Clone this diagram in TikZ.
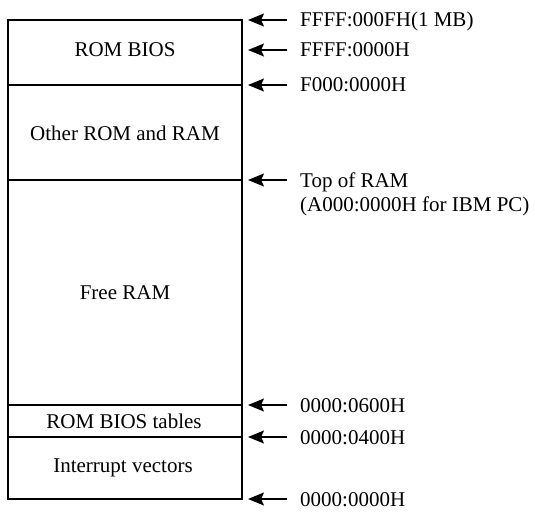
\documentclass[tikz,border=0pt]{standalone}
\usepackage{fontspec}
\setmainfont{Liberation Serif}
\usetikzlibrary{arrows.meta}
\begin{document}
\begin{tikzpicture}[x=1pt,y=-1pt,
  every node/.style={font=\fontsize{21}{24}\selectfont, inner sep=0pt},
  region/.style={anchor=base},
  addr/.style={anchor=base west, align=left},
  ptr/.style={line width=1.5pt, -{Stealth[length=16pt,width=13pt,inset=3pt]}},
  wall/.style={line width=1.3pt}]
\useasboundingbox (0,0) rectangle (535,513);
% box
\draw[wall] (8,20) rectangle (242,499);
\draw[wall] (8,85) -- (242,85);
\draw[wall] (8,180) -- (242,180);
\draw[wall] (8,405) -- (242,405);
\draw[wall] (8,437) -- (242,437);
% region labels
\node[region] (rb) at (125,57) {ROM BIOS};
\node[region] (or) at (125,141) {Other ROM and RAM};
\node[region] (fr) at (125,299) {Free RAM};
\node[region] (bt) at (124,428) {ROM BIOS tables};
\node[region] (iv) at (123,472) {Interrupt vectors};
% address labels
\node[addr] (a1) at (300,27) {FFFF:000FH(1 MB)};
\node[addr] (a2) at (300,57) {FFFF:0000H};
\node[addr] (a3) at (300,92) {F000:0000H};
\node[addr, anchor=north west] (a4) at (300,172.7) {Top of RAM\\(A000:0000H for IBM PC)};
\node[addr] (a5) at (300,412) {0000:0600H};
\node[addr] (a6) at (300,444) {0000:0400H};
\node[addr] (a7) at (300,506) {0000:0000H};
% arrow ends
\coordinate (t1) at (287,20);  \coordinate (h1) at (248,20);
\coordinate (t2) at (287,50);  \coordinate (h2) at (248,50);
\coordinate (t3) at (287,85);  \coordinate (h3) at (248,85);
\coordinate (t4) at (287,180); \coordinate (h4) at (248,180);
\coordinate (t5) at (287,405); \coordinate (h5) at (248,405);
\coordinate (t6) at (287,437); \coordinate (h6) at (248,437);
\coordinate (t7) at (287,499); \coordinate (h7) at (248,499);
\foreach \i in {1,...,7}{
  \draw[ptr] (t\i) -- (h\i);
}
\end{tikzpicture}
\end{document}
